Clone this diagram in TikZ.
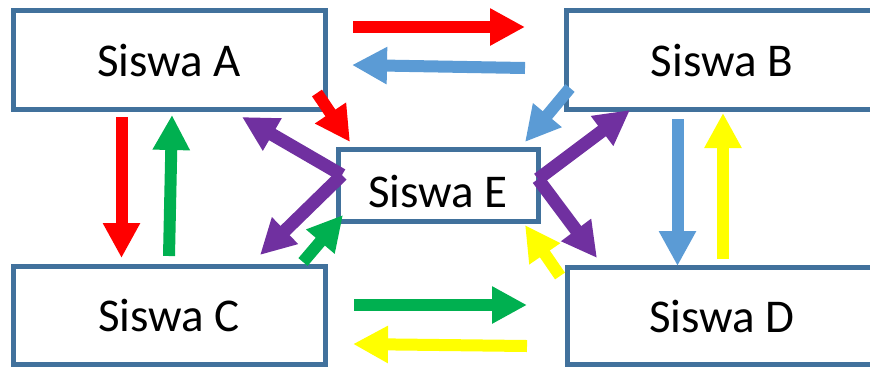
\documentclass[tikz,border=0pt]{standalone}
\usepackage{fontspec}
\setmainfont{Carlito}
\usetikzlibrary{arrows.meta, positioning}
\definecolor{boxline}{HTML}{41719C}
\definecolor{ablue}{HTML}{5B9BD5}
\definecolor{agreen}{HTML}{00B050}
\definecolor{apurple}{HTML}{7030A0}
\definecolor{ared}{HTML}{FF0000}
\definecolor{ayellow}{HTML}{FFFF00}
\begin{document}
\begin{tikzpicture}[x=1pt, y=-1pt,
    box/.style={draw=boxline, fill=white, line width=5pt, minimum height=98pt,
      inner sep=0pt, font=\fontsize{47}{56}\selectfont},
    blk/.style={line width=12pt, -{Triangle[length=35pt, width=35pt]}},
    blkp/.style={blk, line width=13pt, apurple}]
    \useasboundingbox (0,0) rectangle (870,368);
    \clip (0,0) rectangle (870,368);

    % the five boxes
    \foreach \n/\x/\y/\w/\h in {A/169/60/312/99, B/722/60/312/99, C/169/315/312/98,
      D/722/316/310/97}
    \node[box, minimum width=\w pt, minimum height=\h pt] (\n) at (\x,\y) {Siswa \n};
    \node[box, minimum width=200pt, minimum height=72pt, text height=44pt,
      text depth=0pt] (E) at (438,185) {Siswa E};

    % arrow ends
    \foreach \c/\x/\y in {r1/353/27, r2/525/27, b1/525/68, b2/352/65,
      g1/354/305, g2/527/305, y1/527/346, y2/353/344,
      rd1/121.5/117, rd2/121.5/258, gu1/169/256, gu2/172/115,
      bd1/677.5/119, bd2/677.5/266, yu1/723/259, yu2/723/113,
      re1/317/93, re2/350/142, be1/570/88, be2/525/142,
      ge1/303/262, ge2/343/215, ye1/560/276, ye2/525/225,
      pl0/342/175, pl1/242/117, pl2/260/255,
      pr0/538/179, pr1/630/110, pr2/597/258}
    \coordinate (\c) at (\x,\y);

    \draw[blk, ared] (r1) -- (r2);
    \draw[blk, ablue] (b1) -- (b2);
    \draw[blk, agreen] (g1) -- (g2);
    \draw[blk, ayellow] (y1) -- (y2);

    \draw[blk, ared] (rd1) -- (rd2);
    \draw[blk, agreen] (gu1) -- (gu2);
    \draw[blk, ablue] (bd1) -- (bd2);
    \draw[blk, ayellow] (yu1) -- (yu2);

    \draw[blk, ared] (re1) -- (re2);
    \draw[blk, ablue] (be1) -- (be2);
    \draw[blk, agreen] (ge1) -- (ge2);
    \draw[blk, ayellow] (ye1) -- (ye2);

    \draw[blkp] (pl0) -- (pl1);
    \draw[blkp] (pl0) -- (pl2);
    \draw[blkp] (pr0) -- (pr1);
    \draw[blkp] (pr0) -- (pr2);
\end{tikzpicture}
\end{document}
